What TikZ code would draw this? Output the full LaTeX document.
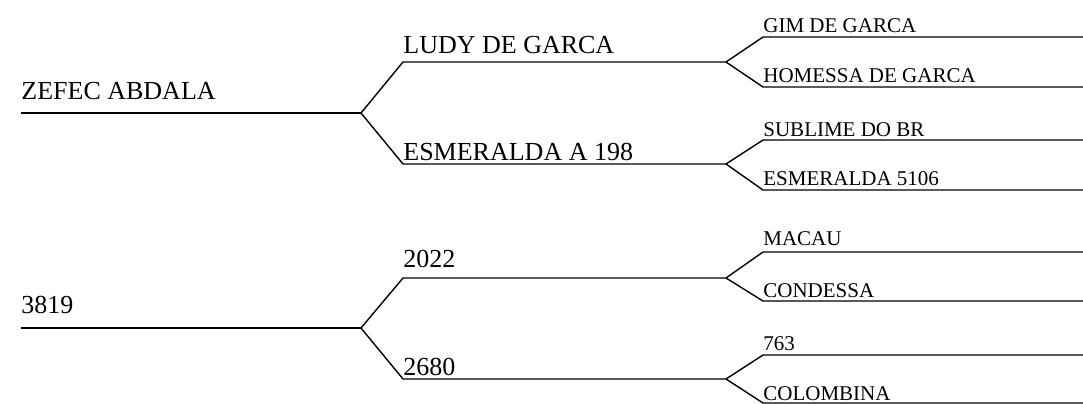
\documentclass[tikz,border=0pt]{standalone}
\usepackage{fontspec}
\setmainfont{Liberation Serif}

\begin{document}
\begin{tikzpicture}[x=.5pt,y=-.5pt,
 line/.style={draw=black,line width=.7pt},
 big/.style={font=\fontsize{13}{15}\selectfont,anchor=base west,inner sep=0pt},
 small/.style={font=\fontsize{10.5}{12}\selectfont,anchor=base west,inner sep=0pt}]
\path[use as bounding box] (0,0) rectangle (1083,403);
% animals, with the fork where the two parents split off
\foreach \n/\y/\b/\t in {zefec/113/99/ZEFEC ABDALA,n3819/328/313/3819}{
 \coordinate (\n) at (21,\y);
 \coordinate (\n f) at (361,\y);
 \node[big] (\n t) at (21,\b) {\t};
 \draw[line] (\n) -- (\n f);
}
% parents
\foreach \p/\n/\y/\b/\t in {zefec/ludy/62/53/LUDY DE GARCA,zefec/esme/164/160/ESMERALDA A 198,
 n3819/n2022/278/267/2022,n3819/n2680/379/375/2680}{
 \coordinate (\n) at (403,\y);
 \coordinate (\n f) at (726,\y);
 \node[big] (\n t) at (403,\b) {\t};
 \draw[line] (\p f) -- (\n) -- (\n f);
}
% grandparents
\foreach \p/\n/\y/\b/\t in {ludy/gim/37/32/GIM DE GARCA,ludy/homessa/87/82/HOMESSA DE GARCA,
 esme/sublime/140/136/SUBLIME DO BR,esme/esme5106/190/185/ESMERALDA 5106,
 n2022/macau/252/245/MACAU,n2022/condessa/301/297/CONDESSA,
 n2680/n763/355/350/763,n2680/colombina/403/400/COLOMBINA}{
 \coordinate (\n) at (763,\y);
 \coordinate (\n e) at (1083,\y);
 \node[small] (\n t) at (763,\b) {\t};
 \draw[line] (\p f) -- (\n) -- (\n e);
}
\end{tikzpicture}
\end{document}
